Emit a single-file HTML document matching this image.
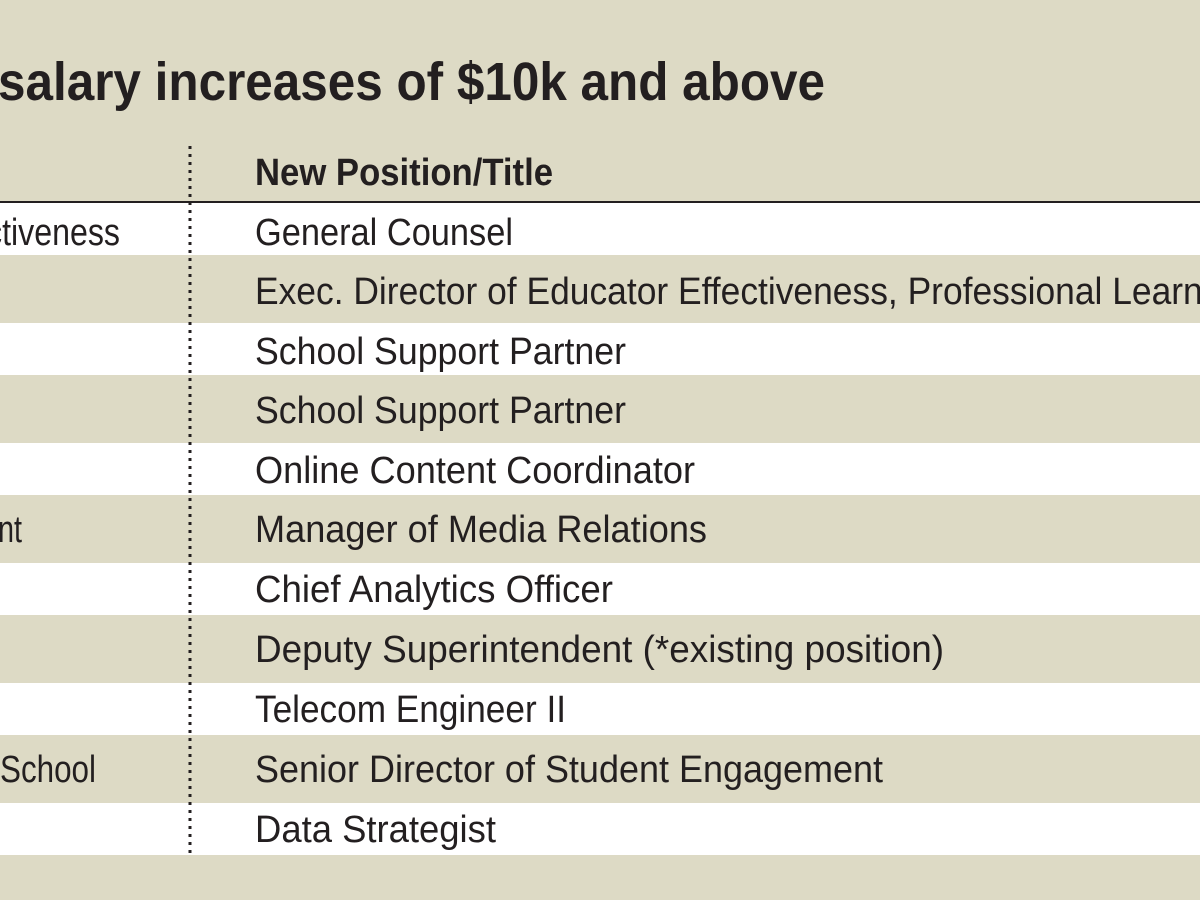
<!DOCTYPE html>
<html><head><meta charset="utf-8"><style>
html,body{margin:0;padding:0;background:#dddac5;}
svg{display:block}
text{font-family:"Liberation Sans",sans-serif;fill:#231f20}
</style></head><body>
<svg width="1200" height="900" viewBox="0 0 1200 900" xmlns="http://www.w3.org/2000/svg">
<rect width="1200" height="900" fill="#dddac5"/>
<g fill="#ffffff">
<rect x="0" y="203" width="1200" height="52"/>
<rect x="0" y="323" width="1200" height="52"/>
<rect x="0" y="443" width="1200" height="52"/>
<rect x="0" y="563" width="1200" height="52"/>
<rect x="0" y="683" width="1200" height="52"/>
<rect x="0" y="803" width="1200" height="52"/>
</g>
<line x1="0" y1="202" x2="1200" y2="202" stroke="#231f20" stroke-width="2"/>
<line x1="190" y1="146" x2="190" y2="856" stroke="#231f20" stroke-width="3" stroke-dasharray="3,5"/>
<text x="-2" y="100" font-size="54" font-weight="bold" textLength="827" lengthAdjust="spacingAndGlyphs">salary increases of $10k and above</text>
<text x="255" y="185" font-size="38" font-weight="bold" textLength="298" lengthAdjust="spacingAndGlyphs">New Position/Title</text>
<g font-size="38">
<text x="-14" y="245" textLength="134" lengthAdjust="spacingAndGlyphs">ctiveness</text>
<text x="-18" y="542" textLength="40" lengthAdjust="spacingAndGlyphs">ent</text>
<text x="0" y="782" textLength="96" lengthAdjust="spacingAndGlyphs">School</text>
<text x="255" y="245" textLength="258" lengthAdjust="spacingAndGlyphs">General Counsel</text>
<text x="255" y="304" textLength="995" lengthAdjust="spacingAndGlyphs">Exec. Director of Educator Effectiveness, Professional Learning</text>
<text x="255" y="364" textLength="371" lengthAdjust="spacingAndGlyphs">School Support Partner</text>
<text x="255" y="423" textLength="371" lengthAdjust="spacingAndGlyphs">School Support Partner</text>
<text x="255" y="483" textLength="440" lengthAdjust="spacingAndGlyphs">Online Content Coordinator</text>
<text x="255" y="542" textLength="452" lengthAdjust="spacingAndGlyphs">Manager of Media Relations</text>
<text x="255" y="602" textLength="358" lengthAdjust="spacingAndGlyphs">Chief Analytics Officer</text>
<text x="255" y="662" textLength="689" lengthAdjust="spacingAndGlyphs">Deputy Superintendent (*existing position)</text>
<text x="255" y="722" textLength="311" lengthAdjust="spacingAndGlyphs">Telecom Engineer II</text>
<text x="255" y="782" textLength="628" lengthAdjust="spacingAndGlyphs">Senior Director of Student Engagement</text>
<text x="255" y="842" textLength="241" lengthAdjust="spacingAndGlyphs">Data Strategist</text>
</g>
</svg>
</body></html>
